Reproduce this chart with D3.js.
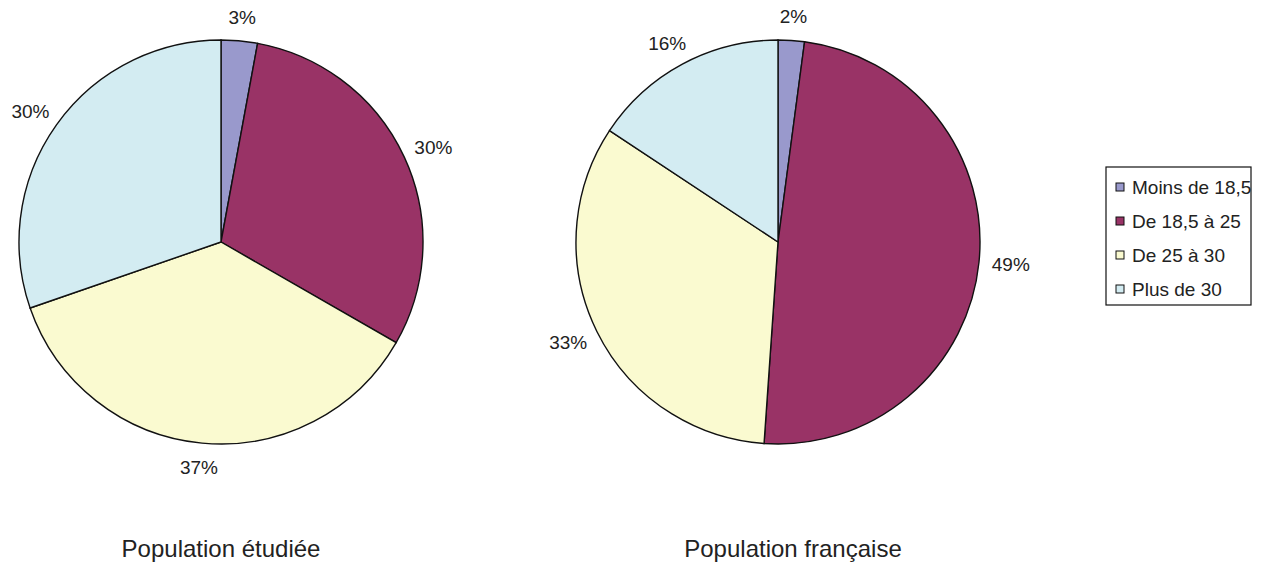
<!DOCTYPE html>
<html>
<head>
<meta charset="utf-8">
<script src="https://cdn.jsdelivr.net/npm/d3@7"></script>
<style>
  body { margin: 0; background: #fff; }
  text { font-family: "Liberation Sans", Arial, sans-serif; fill: #222; }
</style>
</head>
<body>
<svg width="1275" height="562"></svg>
<script>
// categories and values
var categories = ["Moins de 18,5", "De 18,5 à 25", "De 25 à 30", "Plus de 30"];
var colors = ["#9999cc", "#993366", "#fafad0", "#d3ecf2"];
var etudiee = [2.9, 30.4, 36.4, 30.3];
var francaise = [2.1, 49.0, 33.2, 15.7];
var etudieeLabels = ["3%", "30%", "37%", "30%"];
var francaiseLabels = ["2%", "49%", "33%", "16%"];
var titles = ["Population étudiée", "Population française"];

var svg = d3.select("svg");
var radius = 202;

var pie = d3.pie().sort(null).value(function(d) { return d; });
var arc = d3.arc().innerRadius(0).outerRadius(radius);

function drawPie(values, labels, cx, cy, title, titleX) {
  var g = svg.append("g").attr("transform", "translate(" + cx + "," + cy + ")");
  var arcs = pie(values);

  g.selectAll("path")
    .data(arcs)
    .enter().append("path")
    .attr("d", arc)
    .attr("fill", function(d, i) { return colors[i]; })
    .attr("stroke", "#111")
    .attr("stroke-width", 1.4);

  // labels just outside the rim
  g.selectAll("text.lbl")
    .data(arcs)
    .enter().append("text")
    .attr("class", "lbl")
    .attr("x", function(d) {
      var a = (d.startAngle + d.endAngle) / 2;
      return (radius + 10) * Math.sin(a) + 22 * Math.sin(a);
    })
    .attr("y", function(d) {
      var a = (d.startAngle + d.endAngle) / 2;
      return -(radius + 10) * Math.cos(a) - 14 * Math.cos(a);
    })
    .attr("dy", "0.35em")
    .attr("text-anchor", "middle")
    .style("font-size", "19px")
    .text(function(d, i) { return labels[i]; });

  svg.append("text")
    .attr("x", titleX)
    .attr("y", 557)
    .attr("text-anchor", "middle")
    .style("font-size", "24px")
    .text(title);
}

drawPie(etudiee, etudieeLabels, 221, 242, titles[0], 221);
drawPie(francaise, francaiseLabels, 778, 242, titles[1], 793);

// legend
var legend = svg.append("g").attr("transform", "translate(1106,167)");
legend.append("rect")
  .attr("width", 145).attr("height", 138)
  .attr("fill", "#fff").attr("stroke", "#111").attr("stroke-width", 1.2);

var item = legend.selectAll("g.item")
  .data(categories)
  .enter().append("g")
  .attr("class", "item")
  .attr("transform", function(d, i) { return "translate(10," + (20 + i * 34) + ")"; });

item.append("rect")
  .attr("x", 0).attr("y", -4)
  .attr("width", 8).attr("height", 8)
  .attr("fill", function(d, i) { return colors[i]; })
  .attr("stroke", "#111").attr("stroke-width", 1);

item.append("text")
  .attr("x", 16)
  .attr("dy", "0.35em")
  .style("font-size", "19px")
  .text(function(d) { return d; });
</script>
</body>
</html>
